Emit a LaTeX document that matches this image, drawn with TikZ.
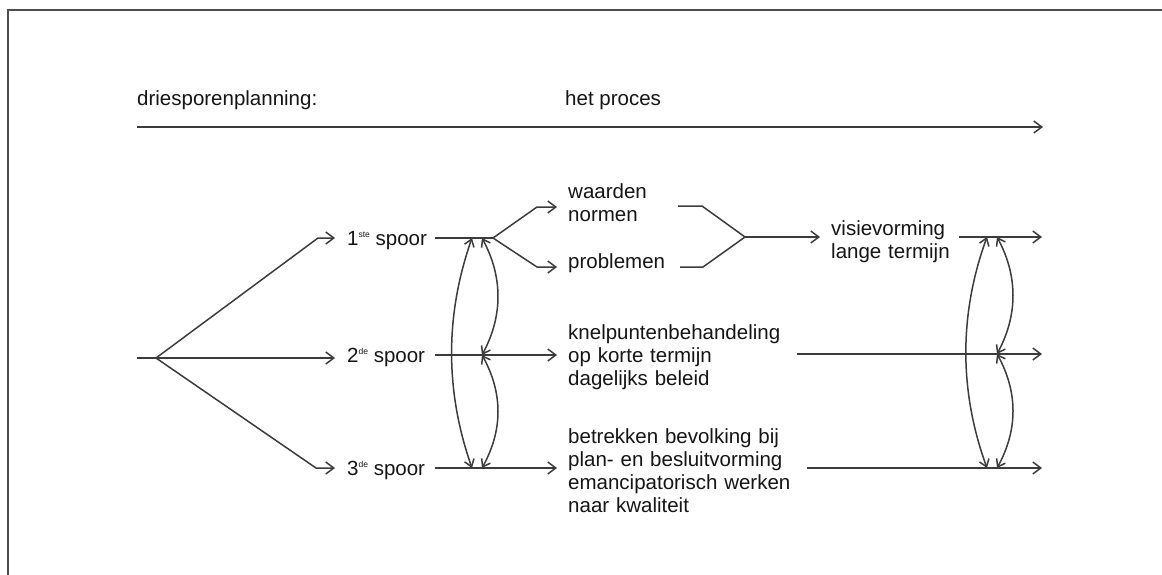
\documentclass[tikz,border=0pt]{standalone}
\usepackage{fontspec}
\setmainfont{Liberation Sans}
\usetikzlibrary{arrows.meta}
\definecolor{ink}{HTML}{151515}
\definecolor{wirec}{HTML}{3C3C3C}
\definecolor{rulec}{HTML}{4E4E4E}
% small raised ordinal suffix (1ste, 2de, 3de)
\newcommand\ordsup[1]{\raisebox{7.5pt}{\fontsize{8.5}{8.5}\selectfont #1}}
\begin{document}
\begin{tikzpicture}[x=1pt, y=-1pt,
  font=\fontsize{20.5}{23.3}\selectfont, text=ink,
  wire/.style={draw=wirec, line width=1.5pt},
  arr/.style={wire, -{Straight Barb[length=8pt,width=12pt]}},
  twoway/.style={wire, {Straight Barb[length=7pt,width=10pt]}-{Straight Barb[length=7pt,width=10pt]}},
  lbl/.style={inner sep=0pt, anchor=base west},
  blk/.style={lbl, text width=260pt, align=left}]
\useasboundingbox (0,0) rectangle (1162,575);

% frame
\draw[draw=rulec, line width=2.2pt] (1162,10) -- (8,10) -- (8,575);

% heading and process arrow
\node[lbl] (plan) at (137,106) {driesporenplanning:};
\node[lbl] (proc) at (565,106) {het proces};
\coordinate (p0) at (137,127);
\coordinate (p1) at (1043,127);
\draw[arr] (p0) -- (p1);

% fork into three tracks
\coordinate (o)  at (137,358);
\coordinate (f)  at (156,358);
\coordinate (b1) at (318,238);
\coordinate (b3) at (316,468);
\coordinate (t1) at (335,238);
\coordinate (t2) at (335,358);
\coordinate (t3) at (335,468);
\draw[wire] (o) -- (f);
\draw[arr] (f) -- (b1) -- (t1);
\draw[arr] (f) -- (t2);
\draw[arr] (f) -- (b3) -- (t3);

\node[lbl] (s1) at (347,245) {1\ordsup{ste} spoor};
\node[lbl] (s2) at (347,362) {2\ordsup{de} spoor};
\node[lbl] (s3) at (347,475) {3\ordsup{de} spoor};

% track lines after the labels
\coordinate (l1) at (435,238);
\coordinate (l2) at (435,355);
\coordinate (l3) at (435,468);
\coordinate (j1) at (493,238);
\coordinate (ua) at (537,207);
\coordinate (ub) at (557,207);
\coordinate (da) at (537,267);
\coordinate (db) at (557,267);
\coordinate (e2) at (557,355);
\coordinate (e3) at (557,468);
\draw[wire] (l1) -- (j1);
\draw[arr] (j1) -- (ua) -- (ub);
\draw[arr] (j1) -- (da) -- (db);
\draw[arr] (l2) -- (e2);
\draw[arr] (l3) -- (e3);

% mutual links between the tracks (left)
\coordinate (al1) at (472,238);
\coordinate (al3) at (472,468);
\coordinate (ai1) at (482,238);
\coordinate (ai2) at (482,355);
\coordinate (ai3) at (482,468);
\draw[twoway] (al1) .. controls (445,315) and (445,391) .. (al3);
\draw[twoway] (ai1) .. controls (503,277) and (503,316) .. (ai2);
\draw[twoway] (ai2) .. controls (503,393) and (503,430) .. (ai3);

% contents of the tracks
\node[blk] (vn) at (568,198) {waarden\\normen};
\node[lbl] (pr) at (568,268) {problemen};
\node[blk] (kn) at (568,339) {knelpuntenbehandeling\\op korte termijn\\dagelijks beleid};
\node[blk] (bb) at (568,443) {betrekken bevolking bij\\plan- en besluitvorming\\emancipatorisch werken\\naar kwaliteit};

% merge of values/norms and problems
\coordinate (ma) at (678,206);
\coordinate (mb) at (702,206);
\coordinate (na) at (680,267);
\coordinate (nb) at (703,267);
\coordinate (mj) at (745,237);
\coordinate (mv) at (820,237);
\draw[wire] (ma) -- (mb) -- (mj);
\draw[wire] (na) -- (nb) -- (mj);
\draw[arr] (mj) -- (mv);

\node[blk] (vv) at (831,235) {visievorming\\lange termijn};

% outgoing track lines
\coordinate (r1a) at (959,237);
\coordinate (r1b) at (1042,237);
\coordinate (r2a) at (797,354);
\coordinate (r2b) at (1042,354);
\coordinate (r3a) at (807,468);
\coordinate (r3b) at (1042,468);
\draw[arr] (r1a) -- (r1b);
\draw[arr] (r2a) -- (r2b);
\draw[arr] (r3a) -- (r3b);

% mutual links between the tracks (right)
\coordinate (ar1) at (987,237);
\coordinate (ar3) at (987,468);
\coordinate (ri1) at (997,237);
\coordinate (ri2) at (997,354);
\coordinate (ri3) at (997,468);
\draw[twoway] (ar1) .. controls (959,314) and (959,391) .. (ar3);
\draw[twoway] (ri1) .. controls (1018,276) and (1018,315) .. (ri2);
\draw[twoway] (ri2) .. controls (1018,392) and (1018,430) .. (ri3);
\end{tikzpicture}
\end{document}
